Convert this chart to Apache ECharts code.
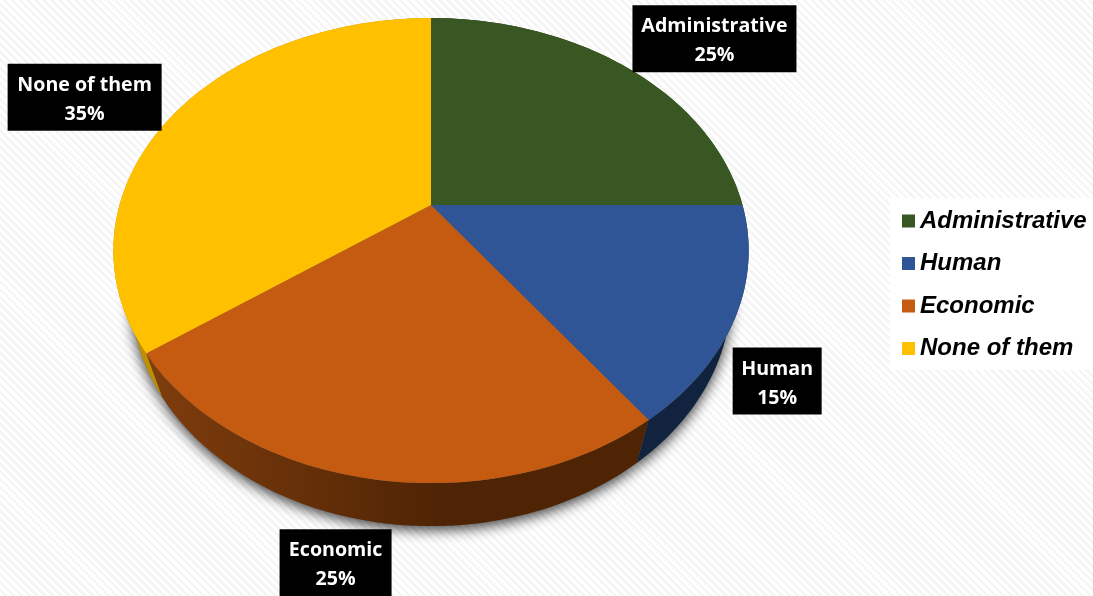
<!DOCTYPE html>
<html><head><meta charset="utf-8">
<style>
html,body{margin:0;padding:0;width:1093px;height:596px;overflow:hidden;background:#fff}
#c{width:1093px;height:596px;
background:repeating-linear-gradient(45deg,#ffffff 0,#ffffff 3px,#f5f5f5 3px,#f5f5f5 5.6px);}
</style>
<script src="https://cdn.jsdelivr.net/npm/echarts@6/dist/echarts.min.js"></script>
</head><body><div id="c"></div>
<script>
const categories = ['Administrative','Human','Economic','None of them'];
const shares = [25,15,25,35];
const topColors = ['#385723','#2F5597','#C55A11','#FFC000'];
const wallStops = [
  ['#2a411a','#2a411a'],
  ['#12233F','#12233F'],
  ['#85400e','#4f2404'],
  ['#BF9000','#BF9000']
];
// label box sizes and offsets from the rim point at each slice's middle
const labelBoxes = [[164,67,90,-27.5],[89,67,41.5,64.5],[112,67,-35,84],[154,67,-91.5,-14.5]];

// perspective projection of the disc
const CX=431, CY=205, A=311.5, B=223.6, K=0.196, DEPTH=43, SHRINK=0.945;
function proj(pct){
  const t=pct/100*2*Math.PI, u=Math.sin(t), v=Math.cos(t), d=1+K*v;
  return [CX+A*u/d, CY-B*v/d];
}
function lower(p){ return [CX+(p[0]-CX)*SHRINK, p[1]+DEPTH]; }
function arc(a,b){ const n=Math.max(2,Math.ceil((b-a)*3)), r=[]; for(let i=0;i<=n;i++) r.push(proj(a+(b-a)*i/n)); return r; }

let cum=0;
const series = categories.map((name,i)=>{
  const start=cum, end=cum+shares[i]; cum=end;
  return {
    type:'custom', name, coordinateSystem:'none', silent:true, animation:false,
    itemStyle:{color:topColors[i]},
    data:[[start,end,shares[i]]],
    renderItem(params,api){
      const a=api.value(0), b=api.value(1), share=api.value(2);
      const rim=arc(a,b);
      const low=rim.map(lower);
      const wall=rim.concat(low.slice().reverse());
      const fill=new echarts.graphic.LinearGradient(113,0,440,0,[
        {offset:0,color:wallStops[i][0]},{offset:1,color:wallStops[i][1]}],true);
      const mid=proj((a+b)/2), box=labelBoxes[i];
      const bx=mid[0]+box[2]-box[0]/2, by=mid[1]+box[3]-box[1]/2;
      return {type:'group',children:[
        {type:'polygon',z2:0,shape:{points:[lower([CX,CY])].concat(low)},style:{fill:'#666',shadowColor:'rgba(0,0,0,0.75)',shadowBlur:13,shadowOffsetX:0,shadowOffsetY:4}},
        {type:'polygon',z2:1,shape:{points:wall},style:{fill}},
        {type:'polygon',z2:2,shape:{points:[[CX,CY]].concat(rim)},style:{fill:topColors[i]}},
        {type:'rect',z2:3,shape:{x:bx,y:by,width:box[0],height:box[1]},style:{fill:'#000'}},
        {type:'text',z2:4,style:{x:bx+box[0]/2,y:by+box[1]/2+2.5,text:name+'\n'+share+'%',fill:'#fff',
          font:'bold 19.6px "Open Sans"',lineHeight:29,align:'center',verticalAlign:'middle'}}
      ]};
    }
  };
});

const chart=echarts.init(document.getElementById('c'),null,{renderer:'canvas'});
chart.setOption({
  backgroundColor:'transparent',
  animation:false,
  legend:{
    data:categories, orient:'vertical', left:890, top:198, width:203,
    padding:[11,6,9,12], itemWidth:13, itemHeight:13, itemGap:18.5, icon:'rect',
    backgroundColor:'#fff', selectedMode:false,
    textStyle:{fontFamily:'Liberation Sans',fontWeight:'bold',fontStyle:'italic',fontSize:24,color:'#000',padding:[0,0,0,0]}
  },
  series
});
</script></body></html>
